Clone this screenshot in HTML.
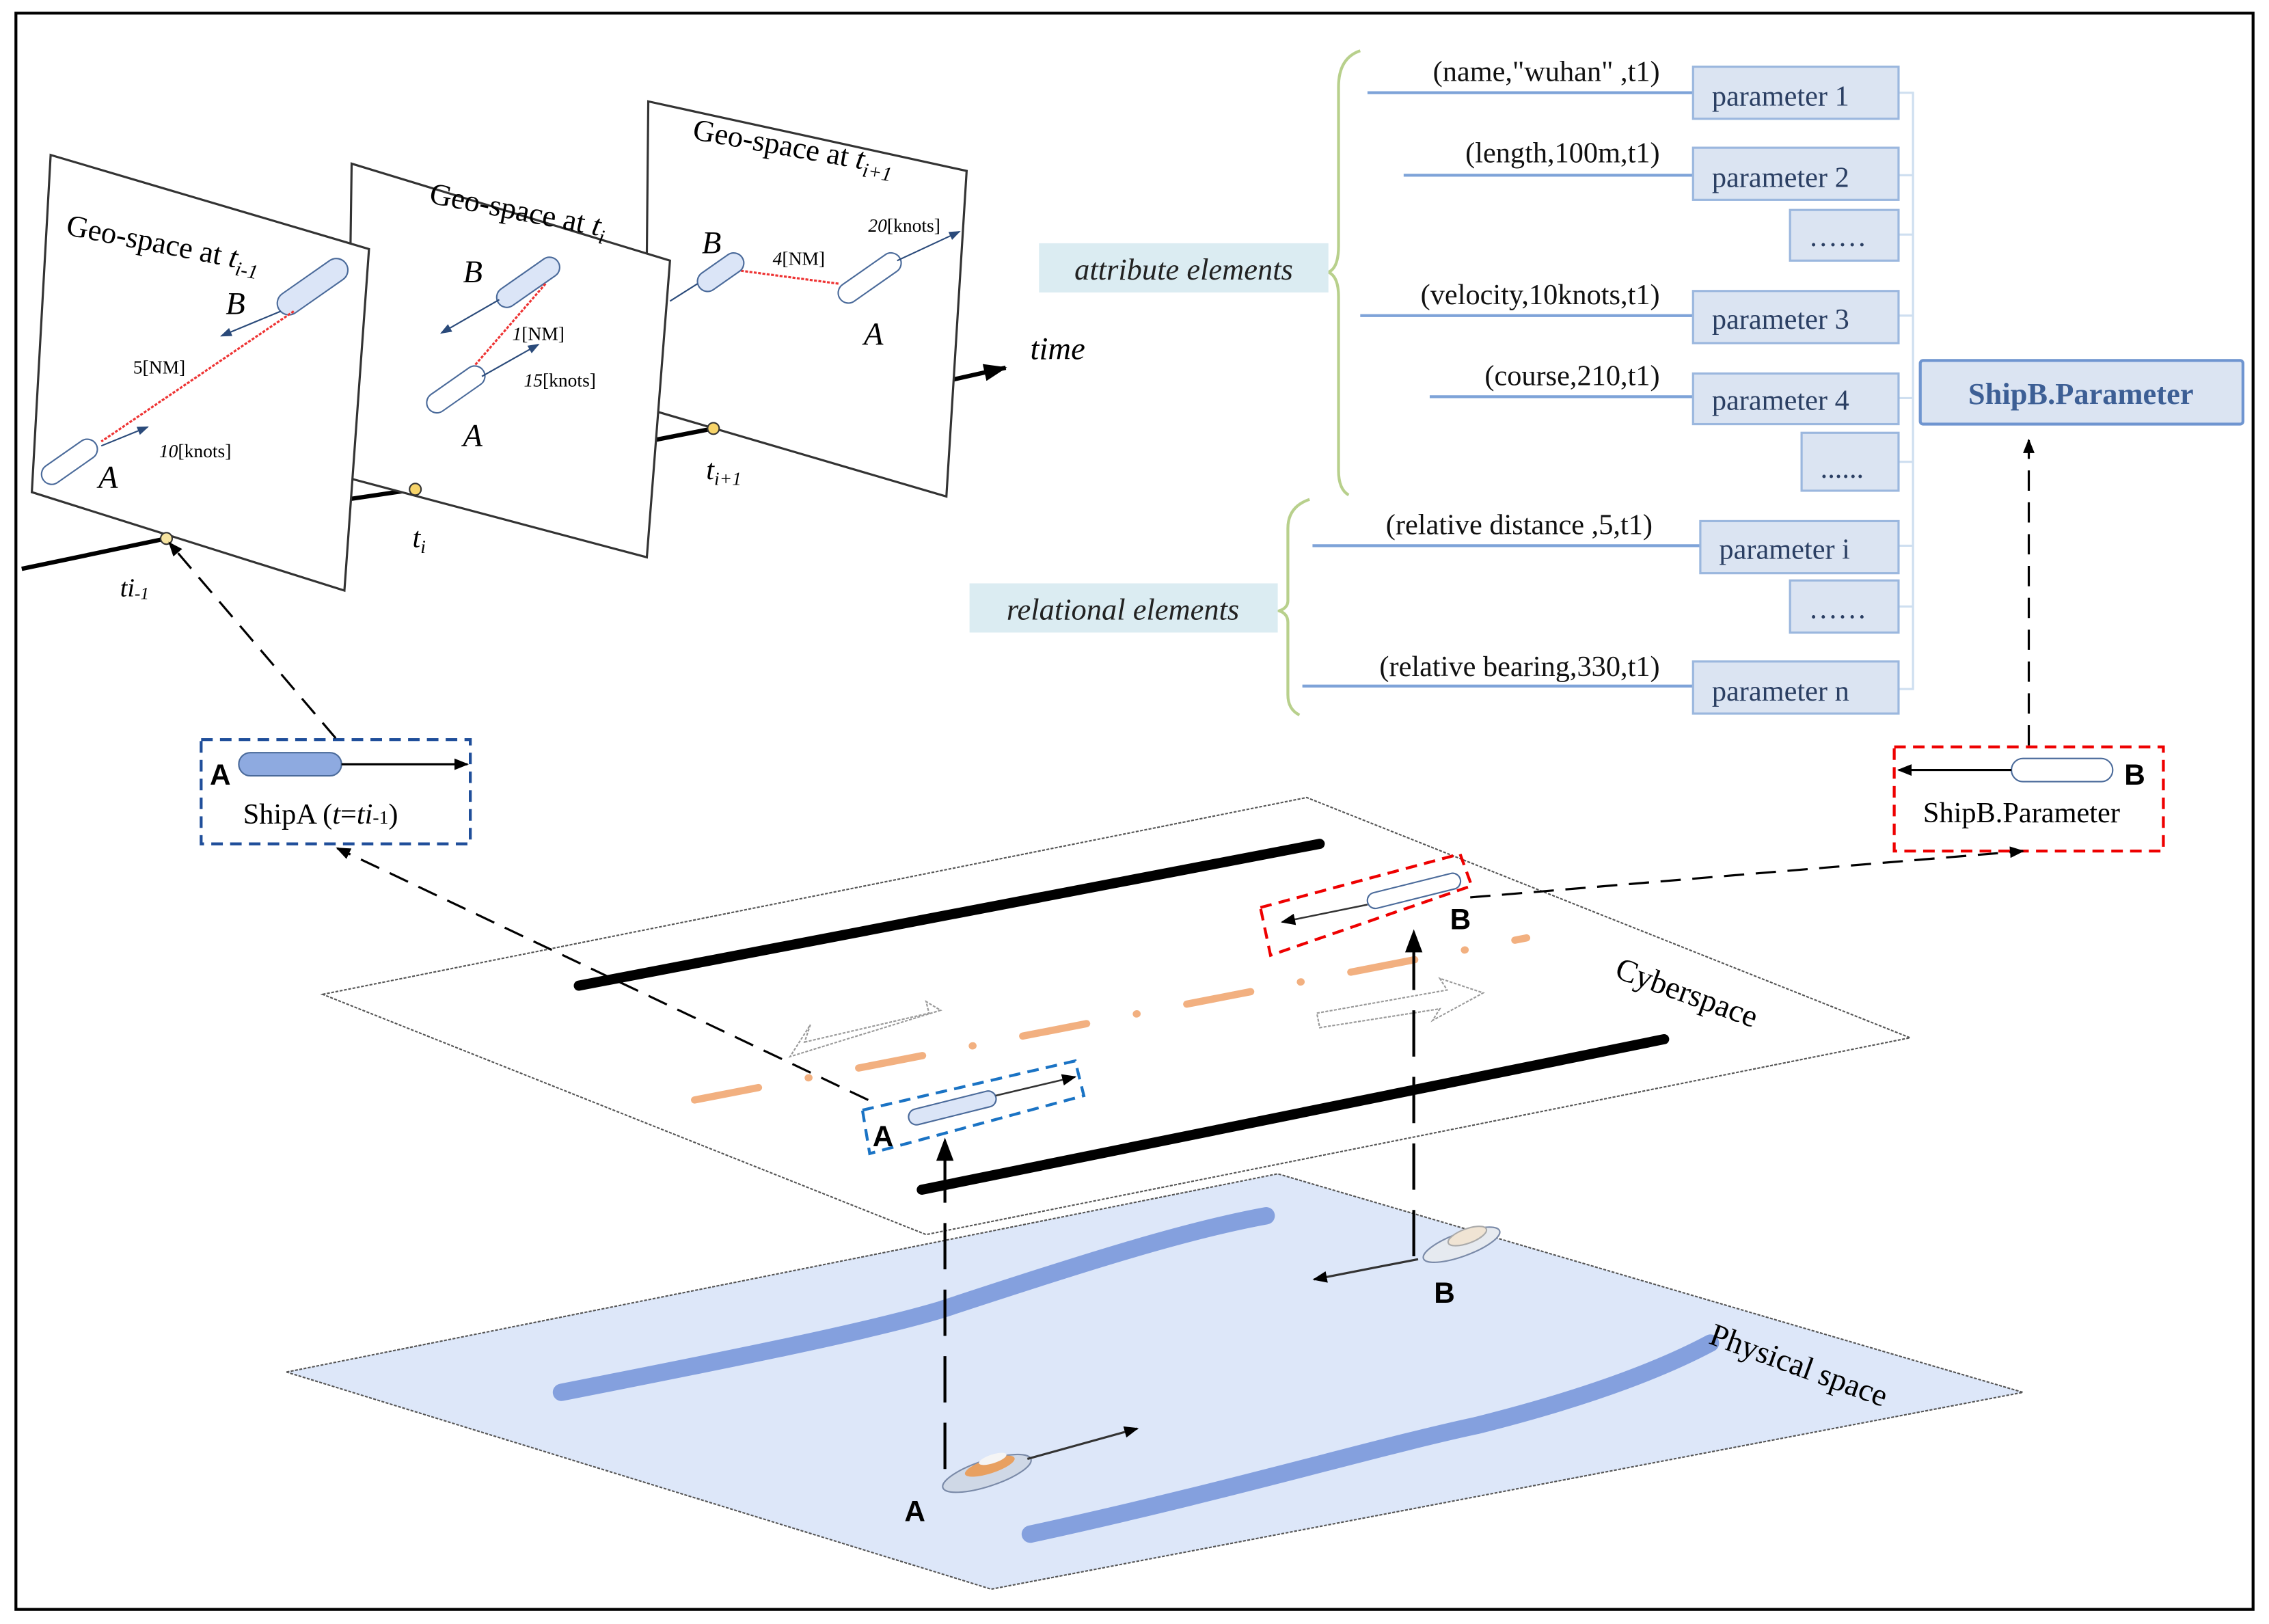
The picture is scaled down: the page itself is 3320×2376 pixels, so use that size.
<!DOCTYPE html>
<html><head><meta charset="utf-8"><style>html,body{margin:0;padding:0;background:#fff}svg{display:block}</style></head>
<body>
<svg width="3320" height="2376" viewBox="0 0 1568 1122" xmlns="http://www.w3.org/2000/svg" font-family="Liberation Serif, serif">
<defs>
<marker id="ah" markerWidth="10" markerHeight="8" refX="9" refY="4" orient="auto" markerUnits="userSpaceOnUse"><path d="M0,0 L10,4 L0,8 z" fill="#000"/></marker>
<marker id="ahb" markerWidth="8" markerHeight="6" refX="7" refY="3" orient="auto" markerUnits="userSpaceOnUse"><path d="M0,0 L8,3 L0,6 z" fill="#2a4a7a"/></marker>
<marker id="ahL" markerWidth="16" markerHeight="12" refX="15" refY="6" orient="auto" markerUnits="userSpaceOnUse"><path d="M0,0 L16,6 L0,12 z" fill="#000"/></marker>
</defs>
<rect x="0" y="0" width="1568" height="1122" fill="#fff"/>
<rect x="11" y="9" width="1546" height="1103" fill="none" stroke="#000" stroke-width="2"/>

<line x1="15" y1="393" x2="115" y2="372" stroke="#000" stroke-width="3"/>
<line x1="240" y1="345" x2="287" y2="338" stroke="#000" stroke-width="3"/>
<line x1="447" y1="305" x2="493" y2="296" stroke="#000" stroke-width="3"/>
<line x1="655" y1="263" x2="695" y2="254" stroke="#000" stroke-width="3" marker-end="url(#ahL)"/>

<polygon points="448,70 668,118 654,343 446,282" fill="#fff" stroke="#333" stroke-width="1.5"/>
<text x="478" y="96" font-size="21" transform="rotate(10 478 96)">Geo-space at <tspan font-style="italic">t</tspan><tspan font-style="italic" font-size="14" dy="5">i+1</tspan></text>
<text x="485" y="175" font-size="22" font-style="italic">B</text>
<text x="597" y="238" font-size="22" font-style="italic">A</text>
<line x1="512" y1="187" x2="580" y2="196" stroke="#e33" stroke-width="1.5" stroke-dasharray="2,1"/>
<text x="534" y="183" font-size="13"><tspan font-style="italic">4</tspan>[NM]</text>
<text x="600" y="160" font-size="13"><tspan font-style="italic">20</tspan>[knots]</text>
<rect x="480" y="181" width="36" height="14" rx="7" fill="#dbe5f7" stroke="#4a6a9a" transform="rotate(-35 498 188)"/>
<line x1="463" y1="208" x2="482" y2="196" stroke="#2a4a7a"/>
<rect x="576" y="185" width="50" height="14" rx="7" fill="#fff" stroke="#4a6a9a" transform="rotate(-35 601 192)"/>
<line x1="620" y1="180" x2="663" y2="160" stroke="#2a4a7a" marker-end="url(#ahb)"/>

<polygon points="243,113 463,180 447,385 240,330" fill="#fff" stroke="#333" stroke-width="1.5"/>
<text x="296" y="140" font-size="21" transform="rotate(11 296 140)">Geo-space at <tspan font-style="italic">t</tspan><tspan font-style="italic" font-size="14" dy="5">i</tspan></text>
<text x="320" y="195" font-size="22" font-style="italic">B</text>
<text x="320" y="308" font-size="22" font-style="italic">A</text>
<rect x="340" y="188" width="50" height="14" rx="7" fill="#dbe5f7" stroke="#4a6a9a" transform="rotate(-35 365 195)"/>
<line x1="345" y1="207" x2="305" y2="230" stroke="#2a4a7a" marker-end="url(#ahb)"/>
<line x1="377" y1="196" x2="318" y2="264" stroke="#e33" stroke-width="1.5" stroke-dasharray="2,1"/>
<rect x="292" y="262" width="46" height="14" rx="7" fill="#fff" stroke="#4a6a9a" transform="rotate(-35 315 269)"/>
<line x1="333" y1="260" x2="372" y2="238" stroke="#2a4a7a" marker-end="url(#ahb)"/>
<text x="354" y="235" font-size="13"><tspan font-style="italic">1</tspan>[NM]</text>
<text x="362" y="267" font-size="13"><tspan font-style="italic">15</tspan>[knots]</text>

<polygon points="35,107 255,172 238,408 22,340" fill="#fff" stroke="#333" stroke-width="1.5"/>
<text x="45" y="162" font-size="21" transform="rotate(11 45 162)">Geo-space at <tspan font-style="italic">t</tspan><tspan font-style="italic" font-size="14" dy="5">i-1</tspan></text>
<text x="156" y="217" font-size="22" font-style="italic">B</text>
<text x="68" y="337" font-size="22" font-style="italic">A</text>
<rect x="188" y="190" width="56" height="16" rx="8" fill="#dbe5f7" stroke="#4a6a9a" transform="rotate(-35 216 198)"/>
<line x1="194" y1="215" x2="153" y2="232" stroke="#2a4a7a" marker-end="url(#ahb)"/>
<line x1="203" y1="215" x2="70" y2="305" stroke="#e33" stroke-width="1.5" stroke-dasharray="2,1"/>
<text x="92" y="258" font-size="13">5[NM]</text>
<rect x="26" y="312" width="44" height="14" rx="7" fill="#fff" stroke="#4a6a9a" transform="rotate(-35 48 319)"/>
<line x1="70" y1="308" x2="102" y2="295" stroke="#2a4a7a" marker-end="url(#ahb)"/>
<text x="110" y="316" font-size="13"><tspan font-style="italic">10</tspan>[knots]</text>

<circle cx="115" cy="372" r="4" fill="#f7e4a0" stroke="#333"/>
<circle cx="287" cy="338" r="4" fill="#f7d46a" stroke="#333"/>
<circle cx="493" cy="296" r="4" fill="#f7d46a" stroke="#333"/>
<text x="83" y="412" font-size="18" font-style="italic">ti<tspan font-size="12" dy="2">-1</tspan></text>
<text x="285" y="378" font-size="20" font-style="italic">t<tspan font-size="13" dy="4">i</tspan></text>
<text x="488" y="331" font-size="20" font-style="italic">t<tspan font-size="13" dy="4">i+1</tspan></text>
<text x="712" y="248" font-size="22" font-style="italic">time</text>

<path d="M940,35 Q925,40 925,60 L925,170 Q925,185 918,188 Q925,191 925,205 L925,325 Q925,338 932,342" fill="none" stroke="#b8d08c" stroke-width="2"/>
<path d="M905,345 Q890,350 890,365 L890,415 Q890,420 884,422 Q890,424 890,430 L890,480 Q890,490 898,494" fill="none" stroke="#b8d08c" stroke-width="2"/>
<rect x="718" y="168" width="200" height="34" fill="#dbecf2"/>
<text x="818" y="193" font-size="21" font-style="italic" text-anchor="middle" fill="#222">attribute elements</text>
<rect x="670" y="403" width="213" height="34" fill="#dbecf2"/>
<text x="776" y="428" font-size="21" font-style="italic" text-anchor="middle" fill="#222">relational elements</text>
<g font-size="20" fill="#111" text-anchor="end">
<text x="1147" y="56">(name,"wuhan" ,t1)</text>
<text x="1147" y="112">(length,100m,t1)</text>
<text x="1147" y="210">(velocity,10knots,t1)</text>
<text x="1147" y="266">(course,210,t1)</text>
<text x="1142" y="369">(relative distance ,5,t1)</text>
<text x="1147" y="467">(relative bearing,330,t1)</text>
</g>
<g stroke="#7ea3d8" stroke-width="2">
<line x1="945" y1="64" x2="1170" y2="64"/>
<line x1="970" y1="121" x2="1170" y2="121"/>
<line x1="940" y1="218" x2="1170" y2="218"/>
<line x1="988" y1="274" x2="1170" y2="274"/>
<line x1="907" y1="377" x2="1175" y2="377"/>
<line x1="900" y1="474" x2="1170" y2="474"/>
</g>
<path d="M1312,64 H1322 V476 H1312 M1312,121 H1322 M1312,162 H1322 M1312,218 H1322 M1312,275 H1322 M1312,319 H1322 M1312,377 H1322 M1312,419 H1322" fill="none" stroke="#cfdff0" stroke-width="1.5"/>
<g fill="#dbe4f2" stroke="#9bb7de" stroke-width="1.5">
<rect x="1170" y="46" width="142" height="36"/>
<rect x="1170" y="102" width="142" height="36"/>
<rect x="1237" y="145" width="75" height="35"/>
<rect x="1170" y="201" width="142" height="36"/>
<rect x="1170" y="258" width="142" height="35"/>
<rect x="1245" y="299" width="67" height="40"/>
<rect x="1175" y="360" width="137" height="36"/>
<rect x="1237" y="401" width="75" height="36"/>
<rect x="1170" y="457" width="142" height="36"/>
</g>
<g font-size="20" fill="#2b3f63">
<text x="1183" y="73">parameter 1</text>
<text x="1183" y="129">parameter 2</text>
<text x="1250" y="170">……</text>
<text x="1183" y="227">parameter 3</text>
<text x="1183" y="283">parameter 4</text>
<text x="1258" y="330">......</text>
<text x="1188" y="386">parameter i</text>
<text x="1250" y="427">……</text>
<text x="1183" y="484">parameter n</text>
</g>
<rect x="1327" y="249" width="223" height="44" rx="2" fill="#dbe4f2" stroke="#6f95d0" stroke-width="2"/>
<text x="1438" y="279" font-size="21" font-weight="bold" fill="#3d5f95" text-anchor="middle">ShipB.Parameter</text>
<line x1="1402" y1="515" x2="1402" y2="304" stroke="#000" stroke-width="1.5" stroke-dasharray="14,8" marker-end="url(#ah)"/>

<rect x="139" y="511" width="186" height="72" fill="#fff" stroke="#1f4e9a" stroke-width="2" stroke-dasharray="8,5"/>
<text x="145" y="542" font-size="20" font-weight="bold" font-family="Liberation Sans, sans-serif">A</text>
<rect x="165" y="520" width="71" height="16" rx="8" fill="#8eaae0" stroke="#4a6a9a"/>
<line x1="236" y1="528" x2="323" y2="528" stroke="#000" stroke-width="1.5" marker-end="url(#ah)"/>
<text x="168" y="569" font-size="20">ShipA (<tspan font-style="italic">t</tspan>=<tspan font-style="italic">ti</tspan><tspan font-size="13">-1</tspan>)</text>

<rect x="1309" y="516" width="186" height="72" fill="#fff" stroke="#e00" stroke-width="2" stroke-dasharray="8,5"/>
<rect x="1390" y="524" width="70" height="16" rx="8" fill="#fff" stroke="#4a6a9a"/>
<line x1="1390" y1="532" x2="1312" y2="532" stroke="#000" stroke-width="1.5" marker-end="url(#ah)"/>
<text x="1468" y="542" font-size="20" font-weight="bold" font-family="Liberation Sans, sans-serif">B</text>
<text x="1397" y="568" font-size="20" text-anchor="middle">ShipB.Parameter</text>

<polygon points="198,948 883,811 1398,962 685,1098" fill="#dde7f9" stroke="#555" stroke-width="1" stroke-dasharray="2,1"/>
<path d="M388,962 C500,940 600,920 650,905 C750,872 820,850 875,840" fill="none" stroke="#84a0de" stroke-width="12" stroke-linecap="round"/>
<path d="M712,1060 C850,1030 950,1000 1020,985 C1100,965 1150,945 1182,928" fill="none" stroke="#84a0de" stroke-width="12" stroke-linecap="round"/>
<text x="1180" y="928" font-size="22" transform="rotate(20 1180 928)">Physical space</text>

<polygon points="223,687 903,551 1320,717 640,853" fill="#fff" stroke="#555" stroke-width="1" stroke-dasharray="2,1"/>
<line x1="400" y1="681" x2="912" y2="583" stroke="#000" stroke-width="7" stroke-linecap="round"/>
<line x1="637" y1="822" x2="1150" y2="718" stroke="#000" stroke-width="7" stroke-linecap="round"/>
<line x1="480" y1="760" x2="1055" y2="648" stroke="#f2b080" stroke-width="5" stroke-linecap="round" stroke-dasharray="45,35,0.5,35"/>
<polygon points="556,720 642,700 640,692 650,698 546,730 560,708" fill="none" stroke="#999" stroke-dasharray="2,1"/>
<path d="M910,700 L1000,684 L995,676 L1025,686 L990,705 L995,697 L912,710 z" fill="none" stroke="#999" stroke-dasharray="2,1"/>
<text x="1115" y="675" font-size="22" transform="rotate(20 1115 675)">Cyberspace</text>

<polygon points="596,767 743,733 749,757 601,797" fill="none" stroke="#1a73c4" stroke-width="2" stroke-dasharray="8,5"/>
<rect x="627" y="760" width="62" height="11" rx="5.5" fill="#dbe5f7" stroke="#4a6a9a" transform="rotate(-14 658 765)"/>
<line x1="688" y1="757" x2="743" y2="744" stroke="#333" stroke-width="1.2" marker-end="url(#ah)"/>
<text x="603" y="792" font-size="20" font-weight="bold" font-family="Liberation Sans, sans-serif">A</text>
<polygon points="871,627 1009,590 1017,612 878,660" fill="none" stroke="#e00" stroke-width="2" stroke-dasharray="8,5"/>
<rect x="944" y="610" width="66" height="11" rx="5.5" fill="#fff" stroke="#4a6a9a" transform="rotate(-14 977 615)"/>
<line x1="945" y1="625" x2="886" y2="637" stroke="#333" stroke-width="1.2" marker-end="url(#ah)"/>
<text x="1002" y="642" font-size="20" font-weight="bold" font-family="Liberation Sans, sans-serif">B</text>

<line x1="600" y1="760" x2="233" y2="586" stroke="#000" stroke-width="1.5" stroke-dasharray="14,8" marker-end="url(#ah)"/>
<line x1="232" y1="510" x2="117" y2="375" stroke="#000" stroke-width="1.5" stroke-dasharray="14,8" marker-end="url(#ah)"/>
<line x1="1016" y1="620" x2="1398" y2="588" stroke="#000" stroke-width="1.5" stroke-dasharray="14,8" marker-end="url(#ah)"/>
<line x1="653" y1="1015" x2="653" y2="787" stroke="#000" stroke-width="2" stroke-dasharray="32,14" marker-end="url(#ahL)"/>
<line x1="977" y1="868" x2="977" y2="643" stroke="#000" stroke-width="2" stroke-dasharray="32,14" marker-end="url(#ahL)"/>

<ellipse cx="682" cy="1018" rx="32" ry="9" fill="#cfd8e6" stroke="#7a8aa8" transform="rotate(-18 682 1018)"/>
<ellipse cx="684" cy="1013" rx="18" ry="5" fill="#e8a060" transform="rotate(-18 684 1013)"/>
<ellipse cx="686" cy="1008" rx="10" ry="3" fill="#f5f5f5" transform="rotate(-18 686 1008)"/>
<line x1="710" y1="1008" x2="786" y2="987" stroke="#333" stroke-width="1.5" marker-end="url(#ah)"/>
<text x="625" y="1051" font-size="20" font-weight="bold" font-family="Liberation Sans, sans-serif">A</text>
<ellipse cx="1010" cy="860" rx="28" ry="8" fill="#e6eaf0" stroke="#7a8aa8" transform="rotate(-20 1010 860)"/>
<ellipse cx="1014" cy="854" rx="14" ry="5" fill="#f0e4d4" stroke="#aaa" transform="rotate(-20 1014 854)"/>
<line x1="980" y1="870" x2="908" y2="884" stroke="#333" stroke-width="1.5" marker-end="url(#ah)"/>
<text x="991" y="900" font-size="20" font-weight="bold" font-family="Liberation Sans, sans-serif">B</text>
</svg>
</body></html>
